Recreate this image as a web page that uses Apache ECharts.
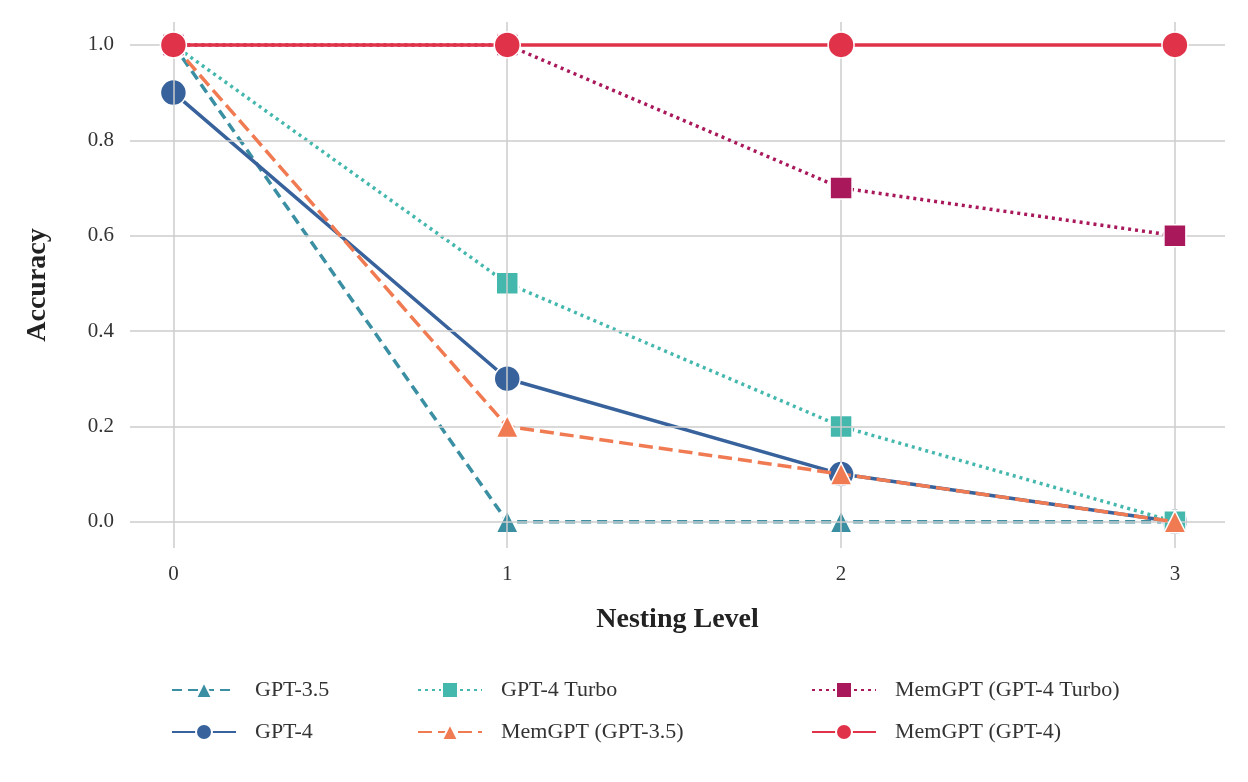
<!DOCTYPE html>
<html><head><meta charset="utf-8">
<script src="https://cdn.jsdelivr.net/npm/echarts@6/dist/echarts.min.js"></script>
<style>html,body{margin:0;padding:0;background:#fff}#c{width:1248px;height:782px}</style>
</head><body><div id="c"></div>
<script>
const levels = [0, 1, 2, 3];
const gpt35 = [1.0, 0.0, 0.0, 0.0];
const gpt4 = [0.9, 0.3, 0.1, 0.0];
const gpt4turbo = [1.0, 0.5, 0.2, 0.0];
const mem35 = [1.0, 0.2, 0.1, 0.0];
const mem4turbo = [1.0, 1.0, 0.7, 0.6];
const mem4 = [1.0, 1.0, 1.0, 1.0];
const yTicks = [0, 0.2, 0.4, 0.6, 0.8, 1.0];

const F = 'Liberation Serif';
const pair = v => levels.map((x, i) => [x, v[i]]);
function s(name, data, color, symbol, dash, size, z) {
  return {
    name, type: 'line', data: pair(data), symbol, symbolSize: size, z, showSymbol: true,
    lineStyle: { color, width: 3.5, type: dash },
    itemStyle: { color, borderColor: '#fff', borderWidth: 1.5 }
  };
}
const grid = { color: '#cccccc', width: 1.5, type: 'solid' };
const series = [
  { type: 'line', data: [], silent: true, z: 0,
    markLine: { silent: true, symbol: 'none', label: { show: false }, lineStyle: grid, animation: false,
      data: levels.map(x => ({ xAxis: x })).concat(yTicks.map(y => ({ yAxis: y }))) } },
  s('GPT-3.5', gpt35, '#3a8fa3', 'triangle', [10, 6], 22, 2),
  s('GPT-4', gpt4, '#37629c', 'circle', 'solid', 26, 3),
  s('GPT-4 Turbo', gpt4turbo, '#45b8ae', 'rect', [3, 4], 22, 4),
  s('MemGPT (GPT-3.5)', mem35, '#f07a52', 'triangle', [14, 6], 22, 5),
  s('MemGPT (GPT-4 Turbo)', mem4turbo, '#a8185a', 'rect', [3, 4], 22, 6),
  s('MemGPT (GPT-4)', mem4, '#e0334a', 'circle', 'solid', 26, 7)
];

const lg = (names, left) => ({
  data: names, orient: 'vertical', left, top: 674, itemGap: 20, itemWidth: 64, itemHeight: 20,
  textStyle: { fontFamily: F, fontSize: 22, color: '#333', padding: [0, 0, 0, 14] }
});
const chart = echarts.init(document.getElementById('c'));
chart.setOption({
  animation: false,
  textStyle: { fontFamily: F },
  grid: { left: 130, right: 23, top: 22, bottom: 234, containLabel: false },
  xAxis: {
    type: 'value', min: -0.13, max: 3.15, name: 'Nesting Level', nameLocation: 'middle', nameGap: 58,
    nameTextStyle: { fontFamily: F, fontSize: 28, fontWeight: 'bold', color: '#222' },
    axisLine: { show: false }, axisTick: { show: false }, splitLine: { show: false },
    axisLabel: { customValues: levels, fontFamily: F, fontSize: 21, color: '#333', margin: 16 }
  },
  yAxis: {
    type: 'value', min: -0.055, max: 1.048, name: 'Accuracy', nameLocation: 'middle', nameGap: 78,
    nameTextStyle: { fontFamily: F, fontSize: 28, fontWeight: 'bold', color: '#222' },
    axisLine: { show: false }, axisTick: { show: false }, splitLine: { show: false },
    axisLabel: { customValues: yTicks, formatter: v => v.toFixed(1), fontFamily: F, fontSize: 21, color: '#333', margin: 16 }
  },
  legend: [
    lg(['GPT-3.5', 'GPT-4'], 166),
    lg(['GPT-4 Turbo', 'MemGPT (GPT-3.5)'], 412),
    lg(['MemGPT (GPT-4 Turbo)', 'MemGPT (GPT-4)'], 806)
  ],
  series
});
</script></body></html>
